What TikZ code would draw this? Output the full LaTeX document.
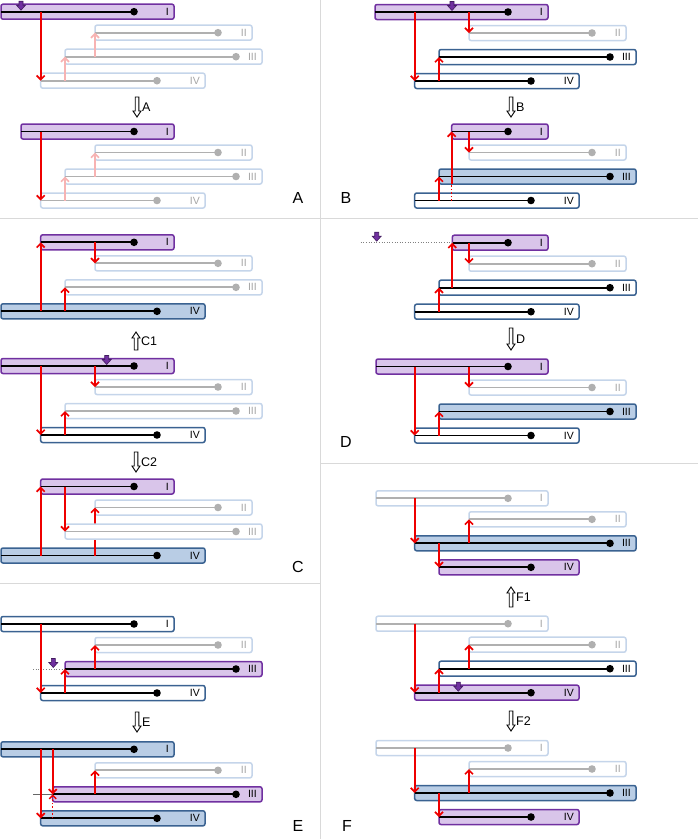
\documentclass[tikz,border=0pt]{standalone}
\usepackage{fontspec}
\setmainfont{Liberation Sans}
\usetikzlibrary{arrows.meta}

% bar colours: border (B), fill (F), line (L), text (T)
\definecolor{pB}{HTML}{7030A0}
\definecolor{pF}{HTML}{D9C5EA}
\colorlet{pL}{black}
\colorlet{pT}{black}
\definecolor{wB}{HTML}{3A6291}
\colorlet{wF}{white}
\colorlet{wL}{black}
\colorlet{wT}{black}
\colorlet{bB}{wB}
\definecolor{bF}{HTML}{B9CDE5}
\colorlet{bL}{black}
\colorlet{bT}{black}
\definecolor{fB}{HTML}{C5D5EA}
\colorlet{fF}{white}
\definecolor{fL}{HTML}{B0B0B0}
\definecolor{fT}{HTML}{A6A6A6}
\definecolor{arrred}{HTML}{EE0000}
\definecolor{arrpink}{HTML}{F7B3B3}
\definecolor{rulegray}{HTML}{D9D9D9}

\tikzset{
  barlabel/.style={font=\fontsize{10.5}{12}\selectfont, inner sep=0pt},
  steplabel/.style={font=\fontsize{12.5}{14}\selectfont, inner sep=0pt},
  panellabel/.style={font=\fontsize{16}{18}\selectfont, inner sep=0pt},
  redarr/.style={draw=arrred, line width=1.7pt, -{Straight Barb[length=4pt,width=8pt]}},
  pinkarr/.style={redarr, draw=arrpink},
  reddots/.style={draw=arrred, line width=1.5pt, dotted},
  guide/.style={draw=gray, line width=0.6pt, dotted},
  rule/.style={draw=rulegray, line width=0.8pt}
}

% name, kind, left, right, line y, dot x, label
\newcommand{\strand}[7]{%
  \draw[draw=#2B, fill=#2F, line width=1.5pt, rounded corners=2pt]
    (#3,{#5-7.5}) coordinate (#1-nw) rectangle (#4,{#5+7.5}) coordinate (#1-se);
  \draw[draw=#2L, line width=1.8pt] (#3,#5) coordinate (#1-s) -- (#6,#5) coordinate (#1-d);
  \fill[#2L] (#1-d) circle[radius=3.8pt];
  \node[barlabel, text=#2T, anchor=east] (#1-l) at ({#4-5},#5) {#7};
}
% purple cursor, tip at (x,y)
\newcommand{\cursor}[2]{%
  \filldraw[fill=pB, draw=pB!60!black, line width=0.6pt]
    ({#1-2},{#2-9}) -- ({#1+2},{#2-9}) -- ({#1+2},{#2-5}) -- ({#1+4.5},{#2-5})
    -- (#1,#2) -- ({#1-4.5},{#2-5}) -- ({#1-2},{#2-5}) -- cycle;
}
% hollow step arrows: name, x, top, bottom, label
\newcommand{\downstep}[5]{%
  \draw[fill=white, line width=0.9pt]
    ({#2-1.8},#3) -- ({#2+1.8},#3) -- ({#2+1.8},{#4-6}) -- ({#2+4},{#4-6})
    -- (#2,#4) -- ({#2-4},{#4-6}) -- ({#2-1.8},{#4-6}) -- cycle;
  \node[steplabel, anchor=west] (#1) at ({#2+5},{(#3+#4)/2}) {#5};
}
\newcommand{\upstep}[5]{%
  \draw[fill=white, line width=0.9pt]
    ({#2-1.8},#4) -- ({#2+1.8},#4) -- ({#2+1.8},{#3+6}) -- ({#2+4},{#3+6})
    -- (#2,#3) -- ({#2-4},{#3+6}) -- ({#2-1.8},{#3+6}) -- cycle;
  \node[steplabel, anchor=west] (#1) at ({#2+5},{(#3+#4)/2}) {#5};
}

\begin{document}
\begin{tikzpicture}[x=1pt, y=-1pt]
  \useasboundingbox (0,0) rectangle (698,839);

  % panel rules
  \draw[rule] (0,218) -- (698,218);
  \draw[rule] (320,0) -- (320,839);
  \draw[rule] (0,583) -- (320,583);
  \draw[rule] (320,463) -- (698,463);

  % ---------- A ----------
  \begin{scope}[shift={(0,11.7)}]
    \strand{A1-I}{p}{1}{174}{0}{134}{I}
    \strand{A1-II}{f}{95}{252}{21}{218}{II}
    \strand{A1-III}{f}{65}{262}{45}{236}{III}
    \strand{A1-IV}{f}{40.7}{205}{69}{157}{IV}
    \draw[redarr] (A1-IV-s |- A1-I-s) -- (A1-IV-s);
    \draw[pinkarr] (A1-III-s |- A1-IV-s) -- (A1-III-s);
    \draw[pinkarr] (A1-II-s |- A1-III-s) -- (A1-II-s);
    \cursor{21}{-1.5}
  \end{scope}
  \downstep{stepA}{137}{97}{117}{A}
  \begin{scope}[shift={(0,131.5)}]
    \strand{A2-I}{p}{21}{174}{0}{134}{I}
    \strand{A2-II}{f}{95}{252}{21}{218}{II}
    \strand{A2-III}{f}{65}{262}{45}{236}{III}
    \strand{A2-IV}{f}{40.7}{205}{69}{157}{IV}
    \draw[redarr] (A2-IV-s |- A2-I-s) -- (A2-IV-s);
    \draw[pinkarr] (A2-III-s |- A2-IV-s) -- (A2-III-s);
    \draw[pinkarr] (A2-II-s |- A2-III-s) -- (A2-II-s);
  \end{scope}
  \node[panellabel] (labA) at (298,198) {A};

  % ---------- B ----------
  \begin{scope}[shift={(374,12)}]
    \strand{B1-I}{p}{1}{174}{0}{134}{I}
    \strand{B1-II}{f}{95}{252}{21}{218}{II}
    \strand{B1-III}{w}{65}{262}{45}{236}{III}
    \strand{B1-IV}{w}{40.7}{205}{69}{157}{IV}
    \draw[redarr] (B1-IV-s |- B1-I-s) -- (B1-IV-s);
    \draw[redarr] (B1-II-s |- B1-I-s) -- (B1-II-s);
    \draw[redarr] (B1-III-s |- B1-IV-s) -- (B1-III-s);
    \cursor{78}{-1.5}
  \end{scope}
  \downstep{stepB}{511}{97}{117}{B}
  \begin{scope}[shift={(374,131.5)}]
    \strand{B2-I}{p}{77.7}{174}{0}{134}{I}
    \strand{B2-II}{f}{95}{252}{21}{218}{II}
    \strand{B2-III}{b}{65}{262}{45}{236}{III}
    \strand{B2-IV}{w}{40.7}{205}{69}{157}{IV}
    \draw[redarr] (B2-II-s |- B2-I-s) -- (B2-II-s);
    \draw[redarr] (B2-III-s |- B2-IV-s) -- (B2-III-s);
    \draw[reddots] (B2-I-s |- B2-IV-s) -- (B2-I-s |- B2-III-se);
    \draw[redarr] (B2-I-s |- B2-III-se) -- (B2-I-s);
  \end{scope}
  \node[panellabel] (labB) at (346,198) {B};

  % ---------- C ----------
  \begin{scope}[shift={(0,242.3)}]
    \strand{C1-I}{p}{40.7}{174}{0}{134}{I}
    \strand{C1-II}{f}{95}{252}{21}{218}{II}
    \strand{C1-III}{f}{65}{262}{45}{236}{III}
    \strand{C1-IV}{b}{1}{205}{69}{157}{IV}
    \draw[redarr] (C1-II-s |- C1-I-s) -- (C1-II-s);
    \draw[redarr] (C1-I-s |- C1-IV-s) -- (C1-I-s);
    \draw[redarr] (C1-III-s |- C1-IV-s) -- (C1-III-s);
  \end{scope}
  \upstep{stepC1}{136}{332}{350}{C1}
  \begin{scope}[shift={(0,366)}]
    \strand{C2-I}{p}{1}{174}{0}{134}{I}
    \strand{C2-II}{f}{95}{252}{21}{218}{II}
    \strand{C2-III}{f}{65}{262}{45}{236}{III}
    \strand{C2-IV}{w}{40.7}{205}{69}{157}{IV}
    \draw[redarr] (C2-IV-s |- C2-I-s) -- (C2-IV-s);
    \draw[redarr] (C2-II-s |- C2-I-s) -- (C2-II-s);
    \draw[redarr] (C2-III-s |- C2-IV-s) -- (C2-III-s);
    \cursor{106.7}{-1.5}
  \end{scope}
  \downstep{stepC2}{136}{452}{472}{C2}
  \begin{scope}[shift={(0,486.5)}]
    \strand{C3-I}{p}{40.7}{174}{0}{134}{I}
    \strand{C3-II}{f}{95}{252}{21}{218}{II}
    \strand{C3-IV}{b}{1}{205}{69}{157}{IV}
    \coordinate (C3-x) at (95,69);
    \draw[redarr] (C3-x) -- (C3-II-s);
    \strand{C3-III}{f}{65}{262}{45}{236}{III}
    \draw[redarr] (C3-III-s |- C3-I-s) -- (C3-III-s);
    \draw[redarr] (C3-I-s |- C3-IV-s) -- (C3-I-s);
  \end{scope}
  \node[panellabel] (labC) at (298,567) {C};

  % ---------- D ----------
  \begin{scope}[shift={(374,242.7)}]
    \coordinate (D1-g) at (-13.3,0);
    \strand{D1-I}{p}{78.3}{174}{0}{134}{I}
    \strand{D1-II}{f}{95}{252}{21}{218}{II}
    \strand{D1-III}{w}{65}{262}{45}{236}{III}
    \strand{D1-IV}{w}{40.7}{205}{69}{157}{IV}
    \draw[guide] (D1-g) -- (D1-I-s);
    \cursor{2.7}{-1.5}
    \draw[redarr] (D1-II-s |- D1-I-s) -- (D1-II-s);
    \draw[redarr] (D1-III-s |- D1-IV-s) -- (D1-III-s);
    \draw[redarr] (D1-I-s |- D1-III-s) -- (D1-I-s);
  \end{scope}
  \downstep{stepD}{511}{328}{350}{D}
  \begin{scope}[shift={(374,366.5)}]
    \strand{D2-I}{p}{2}{174}{0}{134}{I}
    \strand{D2-II}{f}{95}{252}{21}{218}{II}
    \strand{D2-III}{b}{65}{262}{45}{236}{III}
    \strand{D2-IV}{w}{40.7}{205}{69}{157}{IV}
    \draw[redarr] (D2-IV-s |- D2-I-s) -- (D2-IV-s);
    \draw[redarr] (D2-II-s |- D2-I-s) -- (D2-II-s);
    \draw[redarr] (D2-III-s |- D2-IV-s) -- (D2-III-s);
  \end{scope}
  \node[panellabel] (labD) at (346,442) {D};

  % ---------- E ----------
  \begin{scope}[shift={(0,624)}]
    \coordinate (E1-g) at (33,45);
    \strand{E1-I}{w}{1}{174}{0}{134}{I}
    \strand{E1-II}{f}{95}{252}{21}{218}{II}
    \strand{E1-III}{p}{65}{262}{45}{236}{III}
    \strand{E1-IV}{w}{40.7}{205}{69}{157}{IV}
    \draw[guide] (E1-g) -- (E1-III-s);
    \cursor{53.3}{43.5}
    \draw[redarr] (E1-IV-s |- E1-I-s) -- (E1-IV-s);
    \draw[redarr] (E1-II-s |- E1-III-s) -- (E1-II-s);
    \draw[redarr] (E1-III-s |- E1-IV-s) -- (E1-III-s);
  \end{scope}
  \downstep{stepE}{137}{712}{732}{E}
  \begin{scope}[shift={(0,749.3)}]
    \coordinate (E2-g) at (33,45);
    \strand{E2-I}{b}{1}{174}{0}{134}{I}
    \strand{E2-II}{f}{95}{252}{21}{218}{II}
    \strand{E2-III}{p}{52.7}{262}{45}{236}{III}
    \strand{E2-IV}{b}{40.7}{205}{69}{157}{IV}
    \draw[draw=gray!80!black, line width=0.6pt] (E2-g) -- (E2-III-s);
    \draw[redarr] (E2-IV-s |- E2-I-s) -- (E2-IV-s);
    \draw[redarr] (E2-III-s |- E2-I-s) -- (E2-III-s);
    \draw[redarr] (E2-II-s |- E2-III-s) -- (E2-II-s);
    \draw[reddots, -{Straight Barb[length=3.5pt,width=7pt]}] (E2-III-s |- E2-IV-s) -- (E2-III-s);
  \end{scope}
  \node[panellabel] (labE) at (298,826) {E};

  % ---------- F ----------
  \begin{scope}[shift={(374,498.3)}]
    \strand{F1-I}{f}{2}{174}{0}{134}{I}
    \strand{F1-II}{f}{95}{252}{21}{218}{II}
    \strand{F1-III}{b}{40.7}{262}{45}{236}{III}
    \strand{F1-IV}{p}{65}{205}{69}{157}{IV}
    \draw[redarr] (F1-III-s |- F1-I-s) -- (F1-III-s);
    \draw[redarr] (F1-II-s |- F1-III-s) -- (F1-II-s);
    \draw[redarr] (F1-IV-s |- F1-III-s) -- (F1-IV-s);
  \end{scope}
  \upstep{stepF1}{511}{587}{607}{F1}
  \begin{scope}[shift={(374,623.7)}]
    \strand{F2-I}{f}{2}{174}{0}{134}{I}
    \strand{F2-II}{f}{95}{252}{21}{218}{II}
    \strand{F2-III}{w}{65}{262}{45}{236}{III}
    \strand{F2-IV}{p}{40.7}{205}{69}{157}{IV}
    \draw[redarr] (F2-IV-s |- F2-I-s) -- (F2-IV-s);
    \draw[redarr] (F2-II-s |- F2-III-s) -- (F2-II-s);
    \draw[redarr] (F2-III-s |- F2-IV-s) -- (F2-III-s);
    \cursor{84.3}{67.5}
  \end{scope}
  \downstep{stepF2}{511}{711}{731}{F2}
  \begin{scope}[shift={(374,748)}]
    \strand{F3-I}{f}{2}{174}{0}{134}{I}
    \strand{F3-II}{f}{95}{252}{21}{218}{II}
    \strand{F3-III}{b}{40.7}{262}{45}{236}{III}
    \strand{F3-IV}{p}{65}{205}{69}{157}{IV}
    \draw[redarr] (F3-III-s |- F3-I-s) -- (F3-III-s);
    \draw[redarr] (F3-II-s |- F3-III-s) -- (F3-II-s);
    \draw[redarr] (F3-IV-s |- F3-III-s) -- (F3-IV-s);
  \end{scope}
  \node[panellabel] (labF) at (347,826) {F};
\end{tikzpicture}
\end{document}
